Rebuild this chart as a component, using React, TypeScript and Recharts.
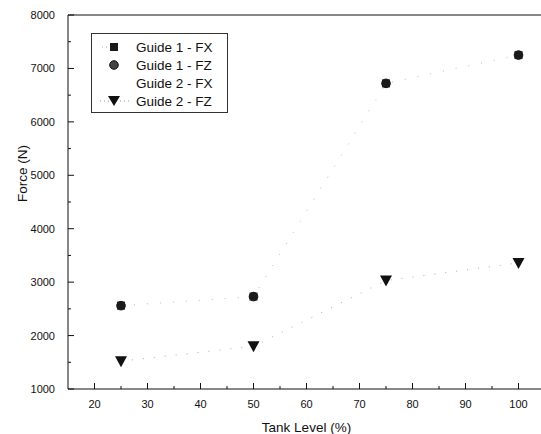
import React from "react";
import {
  ScatterChart,
  Scatter,
  XAxis,
  YAxis,
  Legend,
  ReferenceLine,
} from "recharts";

// tank level (%) for each measurement
const tankLevels = [25, 50, 75, 100];

// force values (N)
const guide1Fx = [2560, 2730, 6720, 7250];
const guide1Fz = [2560, 2730, 6720, 7250];
const guide2Fx = [1520, 1800, 3030, 3360];
const guide2Fz = [1520, 1800, 3030, 3360];

const xTicks = [20, 25, 30, 35, 40, 45, 50, 55, 60, 65, 70, 75, 80, 85, 90, 95, 100];
const yTicks = [1000, 1500, 2000, 2500, 3000, 3500, 4000, 4500, 5000, 5500, 6000, 6500, 7000, 7500, 8000];

const toPoints = (vals: number[]) =>
  tankLevels.map((level, i) => ({ level, force: vals[i] }));

const FONT = "'Liberation Sans', Arial, sans-serif";

const Square = (props: any) => {
  const { cx, cy } = props;
  return <rect x={cx - 4} y={cy - 4} width={8} height={8} fill="#1a1a1a" />;
};

const Dot = (props: any) => {
  const { cx, cy } = props;
  return <circle cx={cx} cy={cy} r={4.3} fill="#444" stroke="#111" strokeWidth={1} />;
};

const Empty = () => <g />;

const DownTri = (props: any) => {
  const { cx, cy } = props;
  return <path d={`M${cx - 6},${cy - 5} L${cx + 6},${cy - 5} L${cx},${cy + 6} Z`} fill="#111" />;
};

const XTick = (props: any) => {
  const { x, y, payload } = props;
  const major = payload.value % 10 === 0;
  return (
    <g>
      <line x1={x} x2={x} y1={y} y2={y - (major ? 6 : 3)} stroke="#111" />
      {major && (
        <text x={x} y={y + 19} textAnchor="middle" fontSize={11} fontFamily={FONT} fill="#111">
          {payload.value}
        </text>
      )}
    </g>
  );
};

const YTick = (props: any) => {
  const { x, y, payload } = props;
  const major = payload.value % 1000 === 0;
  return (
    <g>
      <line x1={x} x2={x + (major ? 6 : 3)} y1={y} y2={y} stroke="#111" />
      {major && (
        <text x={x - 13} y={y + 4} textAnchor="end" fontSize={11} fontFamily={FONT} fill="#111">
          {payload.value}
        </text>
      )}
    </g>
  );
};

const legendRows = [
  { name: "Guide 1 - FX", kind: "square" },
  { name: "Guide 1 - FZ", kind: "circle" },
  { name: "Guide 2 - FX", kind: "none" },
  { name: "Guide 2 - FZ", kind: "tri" },
];

const LegendBox = () => (
  <div
    style={{
      width: 137,
      height: 80,
      border: "1px solid #333",
      background: "#fff",
      fontFamily: FONT,
      fontSize: 13.5,
      color: "#111",
      boxSizing: "border-box",
      paddingTop: 4,
    }}
  >
    {legendRows.map((r) => (
      <div key={r.name} style={{ display: "flex", alignItems: "center", height: 18 }}>
        <svg width={44} height={18}>
          {r.kind === "square" && (
            <>
              <line x1={10} x2={18} y1={9} y2={9} stroke="#aaa" strokeDasharray="1 3" />
              <rect x={18} y={5} width={8} height={8} fill="#1a1a1a" />
            </>
          )}
          {r.kind === "circle" && <circle cx={22} cy={9} r={4.3} fill="#444" stroke="#111" strokeWidth={1} />}
          {r.kind === "tri" && (
            <>
              <line x1={8} x2={38} y1={9} y2={9} stroke="#999" strokeDasharray="1 3" />
              <path d="M16,4 L28,4 L22,14 Z" fill="#111" />
            </>
          )}
        </svg>
        <span>{r.name}</span>
      </div>
    ))}
  </div>
);

export default function App() {
  return (
    <div
      style={{
        position: "absolute",
        left: 0,
        top: 0,
        width: 541,
        height: 434,
        overflow: "hidden",
        background: "#fff",
      }}
    >
      <ScatterChart width={560} height={434} margin={{ top: 15, right: 15, left: 0, bottom: 0 }}>
        <XAxis
          type="number"
          dataKey="level"
          domain={[15, 105]}
          ticks={xTicks}
          interval={0}
          tick={<XTick />}
          tickLine={false}
          tickSize={0}
          tickMargin={0}
          height={45}
          stroke="#111"
          label={{ value: "Tank Level (%)", position: "insideBottom", offset: 2, fontSize: 13.5, fontFamily: FONT, fill: "#111" }}
        />
        <YAxis
          type="number"
          dataKey="force"
          domain={[1000, 8000]}
          ticks={yTicks}
          interval={0}
          tick={<YTick />}
          tickLine={false}
          tickSize={0}
          tickMargin={0}
          width={68}
          stroke="#111"
          label={{ value: "Force (N)", angle: -90, position: "insideLeft", offset: 22, fontSize: 13.5, fontFamily: FONT, fill: "#111" }}
        />
        <ReferenceLine y={8000} stroke="#111" ifOverflow="extendDomain" />
        <Legend
          layout="vertical"
          align="center"
          verticalAlign="middle"
          wrapperStyle={{ left: 91, top: 33, width: 137, height: 80 }}
          content={() => <LegendBox />}
        />
        <Scatter
          name="Guide 2 - FX"
          data={toPoints(guide2Fx)}
          shape={<Empty />}
          isAnimationActive={false}
        />
        <Scatter
          name="Guide 2 - FZ"
          data={toPoints(guide2Fz)}
          shape={<DownTri />}
          line={{ stroke: "#aaa", strokeDasharray: "1 10", strokeWidth: 1 }}
          isAnimationActive={false}
        />
        <Scatter
          name="Guide 1 - FZ"
          data={toPoints(guide1Fz)}
          shape={<Dot />}
          line={{ stroke: "#bbb", strokeDasharray: "1 12", strokeWidth: 1 }}
          isAnimationActive={false}
        />
        <Scatter
          name="Guide 1 - FX"
          data={toPoints(guide1Fx)}
          shape={<Square />}
          isAnimationActive={false}
        />
      </ScatterChart>
    </div>
  );
}
